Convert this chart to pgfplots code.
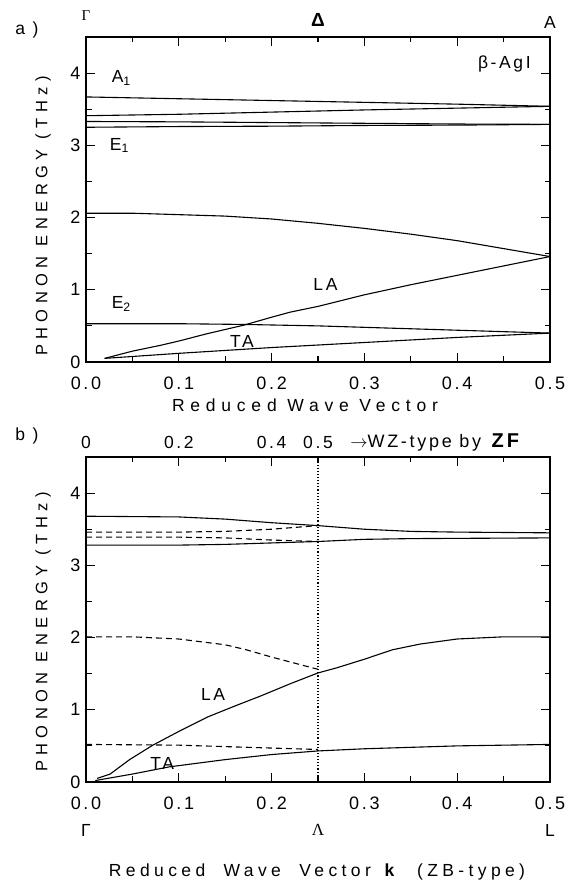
\documentclass[border=0pt]{standalone}
\usepackage{fontspec}
\setmainfont{Liberation Sans}[LetterSpace=15]
\newfontfamily\wide{Liberation Sans}[LetterSpace=33]
\newfontfamily\serif{Liberation Serif}
\usepackage{pgfplots}
\pgfplotsset{compat=1.18}
\tikzset{lbl/.style={font=\fontsize{17.5}{19}\selectfont}}
\begin{document}
\begin{tikzpicture}
\useasboundingbox (0pt,0pt) rectangle (567pt,888pt);
\pgfplotsset{
  myax/.style={
    scale only axis, width=464pt, height=325pt,
    xmin=0, xmax=0.5, ymin=0, ymax=4.5, clip=false,
    xtick={0,0.1,0.2,0.3,0.4,0.5},
    xticklabels={0.0,0.1,0.2,0.3,0.4,0.5},
    minor xtick={0.05,0.15,0.25,0.35,0.45},
    ytick={0,1,2,3,4}, minor ytick={0.5,1.5,2.5,3.5},
    tick align=inside, major tick length=9pt, minor tick length=5.5pt,
    axis line style={line width=1.4pt},
    every tick/.style={black, line width=1.2pt},
    tick label style={font=\fontsize{18}{20}\selectfont},
    xticklabel style={yshift=-11pt},
    yticklabel style={xshift=-2pt},
    /pgf/number format/assume math mode=true,
  },
  ln/.style={black, line width=1.1pt, mark=none},
  dsh/.style={ln, dash pattern=on 6pt off 4pt},
}
% ---------------- panel a ----------------
\begin{axis}[myax, at={(86pt,526pt)}, anchor=south west]
\addplot[ln] coordinates {(0,3.67)(0.1,3.645)(0.2,3.62)(0.3,3.595)(0.4,3.57)(0.5,3.54)};
\addplot[ln] coordinates {(0,3.41)(0.1,3.43)(0.2,3.46)(0.3,3.49)(0.4,3.515)(0.5,3.54)};
\addplot[ln] coordinates {(0,3.33)(0.1,3.325)(0.2,3.315)(0.3,3.305)(0.4,3.295)(0.5,3.29)};
\addplot[ln] coordinates {(0,3.25)(0.1,3.26)(0.2,3.265)(0.3,3.275)(0.4,3.28)(0.5,3.29)};
\addplot[ln] coordinates {(0,2.06)(0.05,2.06)(0.1,2.04)(0.15,2.02)(0.2,1.98)(0.25,1.92)(0.3,1.85)(0.35,1.77)(0.4,1.68)(0.45,1.57)(0.5,1.46)};
\addplot[ln] coordinates {(0.02,0.05)(0.05,0.15)(0.08,0.23)(0.1,0.29)(0.13,0.39)(0.17,0.51)(0.2,0.62)(0.22,0.69)(0.25,0.77)(0.3,0.93)(0.35,1.07)(0.4,1.20)(0.45,1.33)(0.5,1.46)};
\addplot[ln] coordinates {(0,0.53)(0.1,0.53)(0.17,0.52)(0.25,0.50)(0.35,0.46)(0.45,0.42)(0.5,0.40)};
\addplot[ln] coordinates {(0.02,0.05)(0.1,0.12)(0.2,0.20)(0.3,0.27)(0.4,0.34)(0.5,0.40)};
\node[lbl,anchor=west] at (axis cs:0.024,3.93) {A\textsubscript{1}};
\node[lbl,anchor=west] at (axis cs:0.022,3.0) {E\textsubscript{1}};
\node[lbl,anchor=west] at (axis cs:0.024,0.80) {E\textsubscript{2}};
\node[lbl] at (axis cs:0.258,1.07) {LA};
\node[lbl] at (axis cs:0.168,0.29) {TA};
\node[lbl,anchor=east] at (axis cs:0.483,4.12) {β-AgI};
\node[font=\serif\fontsize{15}{17}\selectfont] at (rel axis cs:0,1) [yshift=21pt] {Γ};
\node[font=\bfseries\fontsize{19}{21}\selectfont] at (rel axis cs:0.5,1) [yshift=17pt] {Δ};
\node[lbl] at (rel axis cs:1,1) [yshift=15pt] {A};
\end{axis}
\node[lbl] at (27pt,858pt) {a )};
\node[rotate=90,font=\wide\fontsize{16.5}{18}\selectfont] at (43pt,672pt) {PHONON ENERGY (THz)};
\node[font=\wide\fontsize{17.5}{19}\selectfont] at (305pt,483pt) {Reduced Wave Vector};
% ---------------- panel b ----------------
\begin{axis}[myax, at={(86pt,106pt)}, anchor=south west]
\addplot[ln, dotted, line width=1.3pt] coordinates {(0.25,0)(0.25,4.5)};
\addplot[ln] coordinates {(0,3.68)(0.1,3.67)(0.15,3.64)(0.2,3.59)(0.25,3.55)(0.3,3.50)(0.35,3.47)(0.4,3.46)(0.5,3.45)};
\addplot[ln] coordinates {(0,3.28)(0.1,3.28)(0.15,3.29)(0.2,3.31)(0.25,3.33)(0.3,3.36)(0.35,3.37)(0.5,3.38)};
\addplot[dsh] coordinates {(0,3.46)(0.1,3.46)(0.15,3.47)(0.2,3.50)(0.25,3.55)};
\addplot[dsh] coordinates {(0,3.39)(0.1,3.39)(0.15,3.38)(0.2,3.35)(0.25,3.33)};
\addplot[dsh] coordinates {(0,2.01)(0.05,2.01)(0.1,1.98)(0.15,1.90)(0.173,1.83)(0.2,1.73)(0.25,1.56)};
\addplot[ln] coordinates {(0.012,0.05)(0.026,0.11)(0.047,0.31)(0.072,0.51)(0.1,0.70)(0.131,0.90)(0.16,1.05)(0.188,1.19)(0.22,1.36)(0.25,1.51)(0.27,1.58)(0.3,1.70)(0.33,1.83)(0.36,1.91)(0.4,1.98)(0.45,2.01)(0.5,2.01)};
\addplot[dsh] coordinates {(0,0.52)(0.1,0.51)(0.15,0.49)(0.2,0.47)(0.25,0.45)};
\addplot[ln] coordinates {(0.01,0.02)(0.05,0.11)(0.09,0.21)(0.15,0.31)(0.2,0.38)(0.25,0.43)(0.3,0.46)(0.35,0.48)(0.4,0.50)(0.45,0.51)(0.5,0.52)};
\node[lbl] at (axis cs:0.137,1.21) {LA};
\node[lbl] at (axis cs:0.082,0.26) {TA};
\node[lbl] at (axis cs:0,4.5) [yshift=15pt] {0};
\node[lbl] at (axis cs:0.1,4.5) [yshift=15pt] {0.2};
\node[lbl] at (axis cs:0.2,4.5) [yshift=15pt] {0.4};
\node[lbl] at (axis cs:0.25,4.5) [yshift=15pt] {0.5};
\node[anchor=west,font=\fontsize{18}{20}\selectfont] at (axis cs:0.281,4.5) [yshift=15pt] {$\rightarrow$WZ-type by \textbf{\fontsize{20}{22}\selectfont ZF}};
\node[lbl] at (rel axis cs:0,0) [yshift=-48pt] {Γ};
\node[font=\serif\fontsize{17}{19}\selectfont] at (rel axis cs:0.5,0) [yshift=-48pt] {Λ};
\node[lbl] at (rel axis cs:1,0) [yshift=-48pt] {L};
\end{axis}
\node[lbl] at (27pt,452pt) {b )};
\node[rotate=90,font=\wide\fontsize{16.5}{18}\selectfont] at (43pt,256pt) {PHONON ENERGY (THz)};
\node[font=\fontsize{17.5}{19}\selectfont] at (317pt,16pt) {\addfontfeature{LetterSpace=25}Reduced\ \ Wave\ \ Vector \textbf{k}\ \ (ZB-type)};
\end{tikzpicture}
\end{document}
